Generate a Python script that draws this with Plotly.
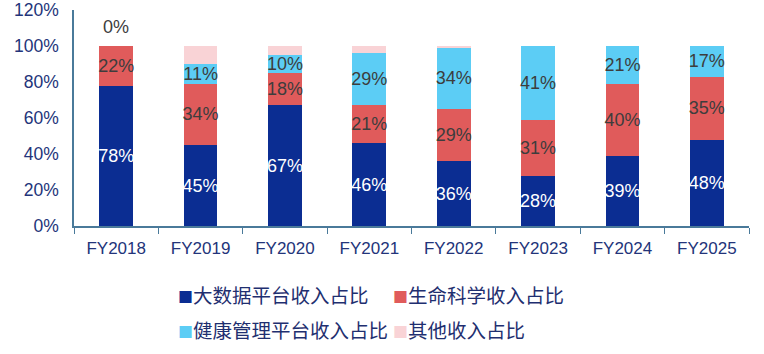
import plotly.graph_objects as go

categories = ["FY2018", "FY2019", "FY2020", "FY2021", "FY2022", "FY2023", "FY2024", "FY2025"]
big_data = [78, 45, 67, 46, 36, 28, 39, 48]
life_sci = [22, 34, 18, 21, 29, 31, 40, 35]
health = [0, 11, 10, 29, 34, 41, 21, 17]
others = [0, 10, 5, 4, 1, 0, 0, 0]
names = ["大数据平台收入占比", "生命科学收入占比", "健康管理平台收入占比", "其他收入占比"]
colors = ["#0b2d92", "#e05b5b", "#5ccdf5", "#f9d3d6"]

FONT = "Liberation Sans, Arial, Noto Sans CJK SC, sans-serif"
CJK = "Noto Sans CJK SC, sans-serif"

fig = go.Figure()
series = [big_data, life_sci, health, others]
for i, (vals, name, col) in enumerate(zip(series, names, colors)):
    if i == 3:
        text = None
    else:
        text = [f"{v}%" if v > 0 else "" for v in vals]
    fig.add_trace(go.Bar(
        x=categories, y=vals, name=name, marker_color=col, marker_line_width=0,
        text=text, textposition="inside" if text else "none",
        insidetextanchor="middle", textangle=0, constraintext="none",
        textfont=dict(size=18, color="white" if i == 0 else "#3d3d3d", family=FONT),
        hoverinfo="skip", showlegend=False,
    ))

# zero-value label for FY2018 health management, above the stack
tot0 = big_data[0] + life_sci[0] + health[0] + others[0]
fig.add_annotation(x=categories[0], y=tot0, text=f"{health[0]}%", showarrow=False,
                   yanchor="bottom", yshift=7,
                   font=dict(size=18, color="#3d3d3d", family=FONT))

# legend (2 x 2 grid) built from names/colors
leg_x = [0.151, 0.469]
leg_y = [-0.319, -0.481]
for k, (name, col) in enumerate(zip(names, colors)):
    fig.add_annotation(
        xref="paper", yref="paper", x=leg_x[k % 2], y=leg_y[k // 2],
        xanchor="left", yanchor="middle", showarrow=False,
        text=f'<span style="color:{col};font-size:15px">■</span>{name}',
        font=dict(size=19.5, color="#1f2f70", family=CJK),
    )

fig.update_layout(
    barmode="stack", bargap=0.6,
    width=764, height=354,
    margin=dict(l=74, r=15, t=10, b=128),
    plot_bgcolor="white", paper_bgcolor="white",
    uniformtext=dict(mode="show", minsize=18),
    font=dict(family=FONT),
    showlegend=False,
)
fig.update_xaxes(showline=True, linecolor="#4a7a9a", linewidth=1.5, automargin=False,
                 ticks="outside", tickson="boundaries", ticklen=6, tickcolor="#4a7a9a",
                 ticklabelstandoff=6,
                 tickfont=dict(size=17, color="#23347a", family=FONT))
fig.update_yaxes(range=[0, 120], dtick=20, ticksuffix="%", showgrid=False, automargin=False,
                 showline=True, linecolor="#4a7a9a", linewidth=1.5, zeroline=False,
                 ticklabelstandoff=10,
                 tickfont=dict(size=17.5, color="#23347a", family=FONT))

fig.write_html("out.html")
